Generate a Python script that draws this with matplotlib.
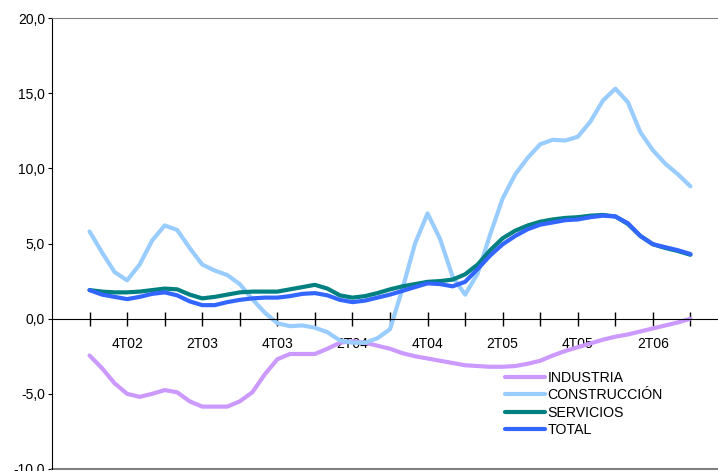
import numpy as np
import matplotlib
matplotlib.use("Agg")
import matplotlib.pyplot as plt

plt.rcParams['font.family'] = ['Liberation Sans', 'DejaVu Sans']

# monthly values, 3T02 .. 3T06
industria = [-2.45, -3.3, -4.3, -5.0, -5.2, -5.0, -4.75, -4.9, -5.5, -5.85,
             -5.85, -5.85, -5.5, -4.9, -3.7, -2.7, -2.35, -2.35, -2.35, -2.0,
             -1.6, -1.5, -1.6, -1.8, -2.0, -2.3, -2.5, -2.65, -2.8, -2.95,
             -3.1, -3.15, -3.2, -3.2, -3.15, -3.0, -2.8, -2.45, -2.15, -1.9,
             -1.65, -1.4, -1.2, -1.05, -0.85, -0.65, -0.45, -0.25, 0.0]
construccion = [5.8, 4.4, 3.1, 2.55, 3.6, 5.2, 6.2, 5.9, 4.7, 3.6,
                3.2, 2.9, 2.3, 1.3, 0.4, -0.3, -0.5, -0.45, -0.6, -0.9,
                -1.45, -1.6, -1.6, -1.3, -0.7, 2.0, 5.0, 7.0, 5.3, 2.8,
                1.6, 3.0, 5.6, 8.0, 9.6, 10.7, 11.6, 11.9, 11.85, 12.1,
                13.1, 14.5, 15.3, 14.4, 12.4, 11.2, 10.3, 9.6, 8.8]
servicios = [1.9, 1.8, 1.75, 1.75, 1.8, 1.9, 2.0, 1.95, 1.6, 1.35,
             1.45, 1.6, 1.75, 1.8, 1.8, 1.8, 1.95, 2.1, 2.25, 2.0,
             1.55, 1.4, 1.5, 1.7, 1.95, 2.15, 2.3, 2.45, 2.5, 2.6,
             2.95, 3.6, 4.55, 5.35, 5.85, 6.2, 6.45, 6.6, 6.7, 6.75,
             6.85, 6.9, 6.8, 6.3, 5.5, 4.95, 4.7, 4.5, 4.25]
total = [1.9, 1.6, 1.45, 1.3, 1.45, 1.65, 1.75, 1.55, 1.15, 0.9,
         0.9, 1.1, 1.25, 1.35, 1.4, 1.4, 1.5, 1.65, 1.7, 1.55,
         1.25, 1.1, 1.2, 1.4, 1.6, 1.85, 2.1, 2.35, 2.3, 2.15,
         2.45, 3.3, 4.2, 4.95, 5.5, 5.95, 6.25, 6.4, 6.55, 6.6,
         6.75, 6.85, 6.8, 6.35, 5.5, 4.95, 4.75, 4.55, 4.3]

quarters = ['3T02', '4T02', '1T03', '2T03', '3T03', '4T03', '1T04', '2T04', '3T04',
            '4T04', '1T05', '2T05', '3T05', '4T05', '1T06', '2T06', '3T06']
shown = ['4T02', '2T03', '4T03', '2T04', '4T04', '2T05', '4T05', '2T06']

x = np.arange(len(total))

fig = plt.figure(figsize=(7.18, 4.71), dpi=100)
ax = fig.add_axes([52/718, 1 - 469/471, 1 - 52/718, (469 - 18)/471])

style = dict(lw=3, solid_joinstyle='round', solid_capstyle='round')
ax.plot(x, industria, color='#CC99FF', label='INDUSTRIA', **style)
ax.plot(x, construccion, color='#99CCFF', label='CONSTRUCCIÓN', **style)
ax.plot(x, servicios, color='#008080', label='SERVICIOS', **style)
ax.plot(x, total, color='#3366FF', label='TOTAL', **style)

ax.set_xlim(-3, 50.2)
ax.set_ylim(-10, 20)

ax.spines['bottom'].set_position(('data', 0))
ax.spines['bottom'].set_color('black')
ax.spines['right'].set_visible(False)
ax.spines['top'].set_color('#808080')
ax.axhline(-10, color='#808080', lw=1.5, clip_on=False)

qpos = np.arange(0, len(total), 3)
ax.set_xticks(qpos)
ax.set_xticklabels([q if q in shown else '' for q in quarters])
ax.tick_params(axis='x', direction='inout', length=10, width=1, pad=8, labelsize=10)

yt = np.arange(-10, 21, 5)
ax.set_yticks(yt)
ax.set_yticklabels([f'{v:.1f}'.replace('.', ',') for v in yt])
ax.tick_params(axis='y', direction='out', length=3, pad=2, labelsize=10)

ax.legend(loc='upper left', bbox_to_anchor=(505/718, 1 - 371/471),
          bbox_transform=fig.transFigure, frameon=False, fontsize=10.2,
          handlelength=2.8, handletextpad=0.2, labelspacing=0.24,
          borderpad=0, borderaxespad=0)

fig.savefig('out.png', dpi=100)
